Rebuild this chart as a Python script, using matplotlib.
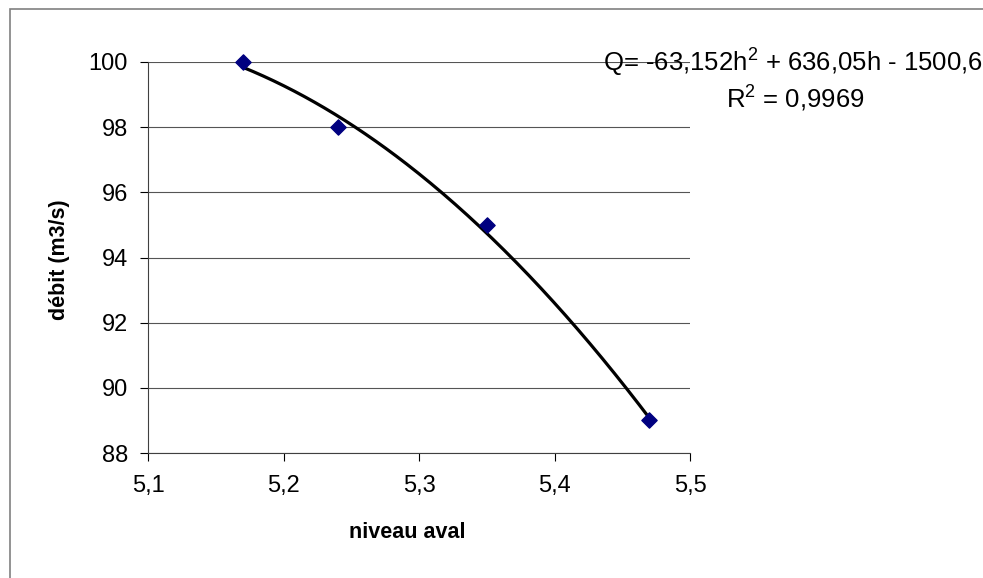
import numpy as np
import matplotlib
matplotlib.use("Agg")
import matplotlib.pyplot as plt
from matplotlib.patches import Rectangle

plt.rcParams['font.family'] = ['Liberation Sans', 'DejaVu Sans']
plt.rcParams['mathtext.fontset'] = 'custom'
plt.rcParams['mathtext.rm'] = 'Liberation Sans'

niveau = [5.17, 5.24, 5.35, 5.47]
debit = [100, 98, 95, 89]
x_ticks = [5.1, 5.2, 5.3, 5.4, 5.5]
x_tick_labels = ["5,1", "5,2", "5,3", "5,4", "5,5"]
y_ticks = [88, 90, 92, 94, 96, 98, 100]
equation = "Q= -63,152h$^{2}$ + 636,05h - 1500,6"
r2_text = "R$^{2}$ = 0,9969"

W, H = 983, 578
fig = plt.figure(figsize=(W / 100, H / 100), dpi=100)
fig.patch.set_facecolor("white")

# outer chart border
fig.patches.append(Rectangle((10 / W, -0.05), 1.2, 1 - 9 / H + 0.05,
                             transform=fig.transFigure, fill=False,
                             edgecolor="#808080", linewidth=1.2))

ax = fig.add_axes([148 / W, 1 - 453 / H, (690 - 148) / W, (453 - 62) / H])
ax.set_xlim(5.1, 5.5)
ax.set_ylim(88, 100)
ax.set_xticks(x_ticks)
ax.set_xticklabels(x_tick_labels)
ax.set_yticks(y_ticks)
ax.set_yticklabels([str(v) for v in y_ticks])
ax.tick_params(direction="out", length=5.5, width=0.8, labelsize=17, colors="#000000")
ax.tick_params(axis="y", pad=9)
ax.tick_params(axis="x", pad=10)
ax.grid(axis="y", color="#555555", linewidth=0.8)
ax.set_axisbelow(True)
for s in ["top", "right"]:
    ax.spines[s].set_visible(False)
for s in ["left", "bottom"]:
    ax.spines[s].set_color("#404040")
    ax.spines[s].set_linewidth(0.8)

# polynomial trendline (order 2) fitted to the data
coef = np.polyfit(niveau, debit, 2)
hx = np.linspace(min(niveau), max(niveau), 200)
ax.plot(hx, np.polyval(coef, hx), color="black", linewidth=2.3, zorder=3)

ax.scatter(niveau, debit, marker="D", s=60, color="#000080", zorder=4, clip_on=False)

fig.text(407 / W, 1 - 533 / H, "niveau aval", fontsize=15.5, fontweight="bold",
         ha="center", va="center")
fig.text(60 / W, 1 - 260 / H, "débit (m3/s)", fontsize=15.5, fontweight="bold",
         ha="center", va="center", rotation=90)

fig.text(603 / W, 1 - 62 / H, equation, fontsize=18.5, ha="left", va="center")
fig.text(795 / W, 1 - 98 / H, r2_text, fontsize=18.5, ha="center", va="center")

fig.savefig("out.png", dpi=100)
